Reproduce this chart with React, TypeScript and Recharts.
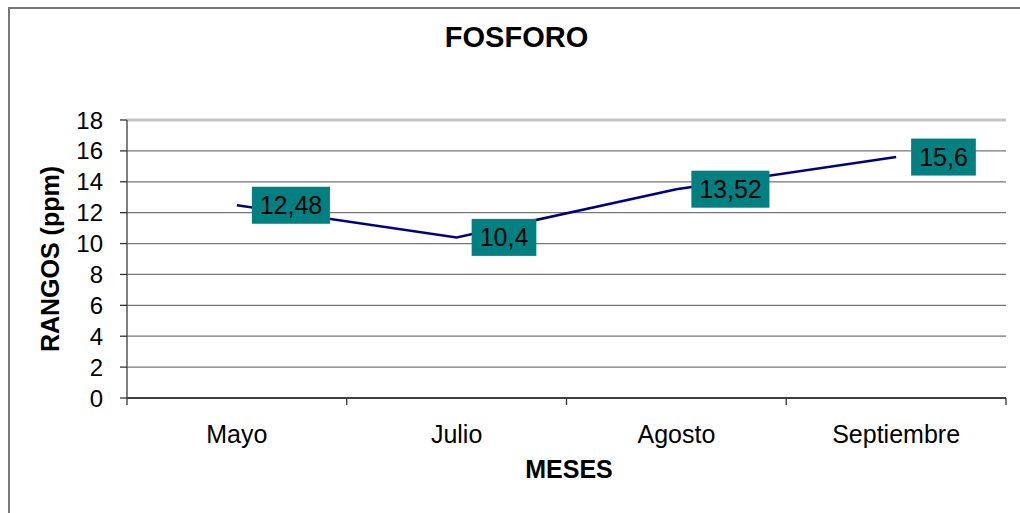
import React from 'react'
import {
  ComposedChart,
  Line,
  XAxis,
  YAxis,
  CartesianGrid,
  ReferenceLine,
  LabelList,
} from 'recharts'

const months = ['Mayo', 'Julio', 'Agosto', 'Septiembre']
const fosforo = [12.48, 10.4, 13.52, 15.6]
const yTicks = [0, 2, 4, 6, 8, 10, 12, 14, 16, 18]

const data = months.map((mes, i) => ({ mes, valor: fosforo[i] }))

const FONT = "Arial, 'Liberation Sans', sans-serif"

// rough Arial widths at 24px, used to size the teal label boxes
const textWidth = (s: string) =>
  s.split('').reduce((w, c) => w + (c === ',' ? 6.67 : 13.35), 0)

const ValueBox = (props: any) => {
  const { x, y, value } = props
  const label = String(value).replace('.', ',')
  const w = textWidth(label) + 18
  const h = 37
  return (
    <g>
      <rect x={x + 15} y={y - h / 2} width={w} height={h} fill="#008080" />
      <text
        x={x + 15 + w / 2}
        y={y + 9}
        textAnchor="middle"
        fontSize={25}
        fontFamily={FONT}
        fill="#000"
      >
        {label}
      </text>
    </g>
  )
}

// month label plus tick marks on the band edges (Excel style)
const MonthTick = (props: any) => {
  const { x, y, payload, index, visibleTicksCount } = props
  const half = payload && payload.offset ? payload.offset : 110
  const last = index === visibleTicksCount - 1
  return (
    <g>
      <line x1={x - half} x2={x - half} y1={y} y2={y + 7} stroke="#333" strokeWidth={1.3} />
      {last && (
        <line x1={x + half} x2={x + half} y1={y} y2={y + 7} stroke="#333" strokeWidth={1.3} />
      )}
      <text x={x} y={y + 45} textAnchor="middle" fontSize={25} fontFamily={FONT} fill="#000">
        {payload.value}
      </text>
    </g>
  )
}

export default function App() {
  return (
    <div
      style={{
        position: 'absolute',
        left: 0,
        top: 0,
        width: 1020,
        height: 513,
        overflow: 'hidden',
        background: '#fff',
        fontFamily: FONT,
      }}
    >
      <div
        style={{
          position: 'absolute',
          left: 8,
          top: 7,
          width: 1100,
          height: 600,
          border: '2px solid #777',
        }}
      />
      <ComposedChart
        width={1020}
        height={513}
        data={data}
        margin={{ top: 120, right: 14, bottom: 55, left: 67 }}
        style={{ position: 'absolute', left: 0, top: 0 }}
      >
        <CartesianGrid vertical={false} stroke="#777" strokeWidth={1.3} />
        <XAxis
          xAxisId="cat"
          dataKey="mes"
          scale="band"
          height={60}
          tickSize={0}
          tickMargin={0}
          tickLine={false}
          interval={0}
          axisLine={{ stroke: '#222', strokeWidth: 1.5 }}
          tick={<MonthTick />}
        />
        <XAxis xAxisId="edges" type="number" domain={[0, 4]} hide />
        <YAxis
          domain={[0, 18]}
          ticks={yTicks}
          width={60}
          tickSize={7}
          tickMargin={17}
          interval={0}
          tick={{ fill: '#000', fontSize: 24, fontFamily: FONT }}
          tickLine={{ stroke: '#333', strokeWidth: 1.3 }}
          axisLine={{ stroke: '#555', strokeWidth: 1.5 }}
        />
        <ReferenceLine xAxisId="cat" y={18} stroke="#c4c4c4" strokeWidth={3} />
        <ReferenceLine xAxisId="edges" x={4} stroke="#c4c4c4" strokeWidth={3} />
        <Line
          xAxisId="cat"
          dataKey="valor"
          stroke="#000080"
          strokeWidth={2.5}
          dot={false}
          isAnimationActive={false}
        >
          <LabelList dataKey="valor" content={<ValueBox />} />
        </Line>
      </ComposedChart>
      <div
        style={{
          position: 'absolute',
          left: 0,
          width: 1033,
          top: 21,
          textAlign: 'center',
          fontSize: 29,
          fontWeight: 'bold',
          color: '#000',
        }}
      >
        FOSFORO
      </div>
      <div
        style={{
          position: 'absolute',
          left: 127,
          width: 884,
          top: 455,
          textAlign: 'center',
          fontSize: 25,
          fontWeight: 'bold',
          color: '#000',
        }}
      >
        MESES
      </div>
      <div
        style={{
          position: 'absolute',
          left: 50,
          top: 259,
          transform: 'translate(-50%, -50%) rotate(-90deg)',
          whiteSpace: 'nowrap',
          fontSize: 25,
          fontWeight: 'bold',
          color: '#000',
        }}
      >
        RANGOS (ppm)
      </div>
    </div>
  )
}
